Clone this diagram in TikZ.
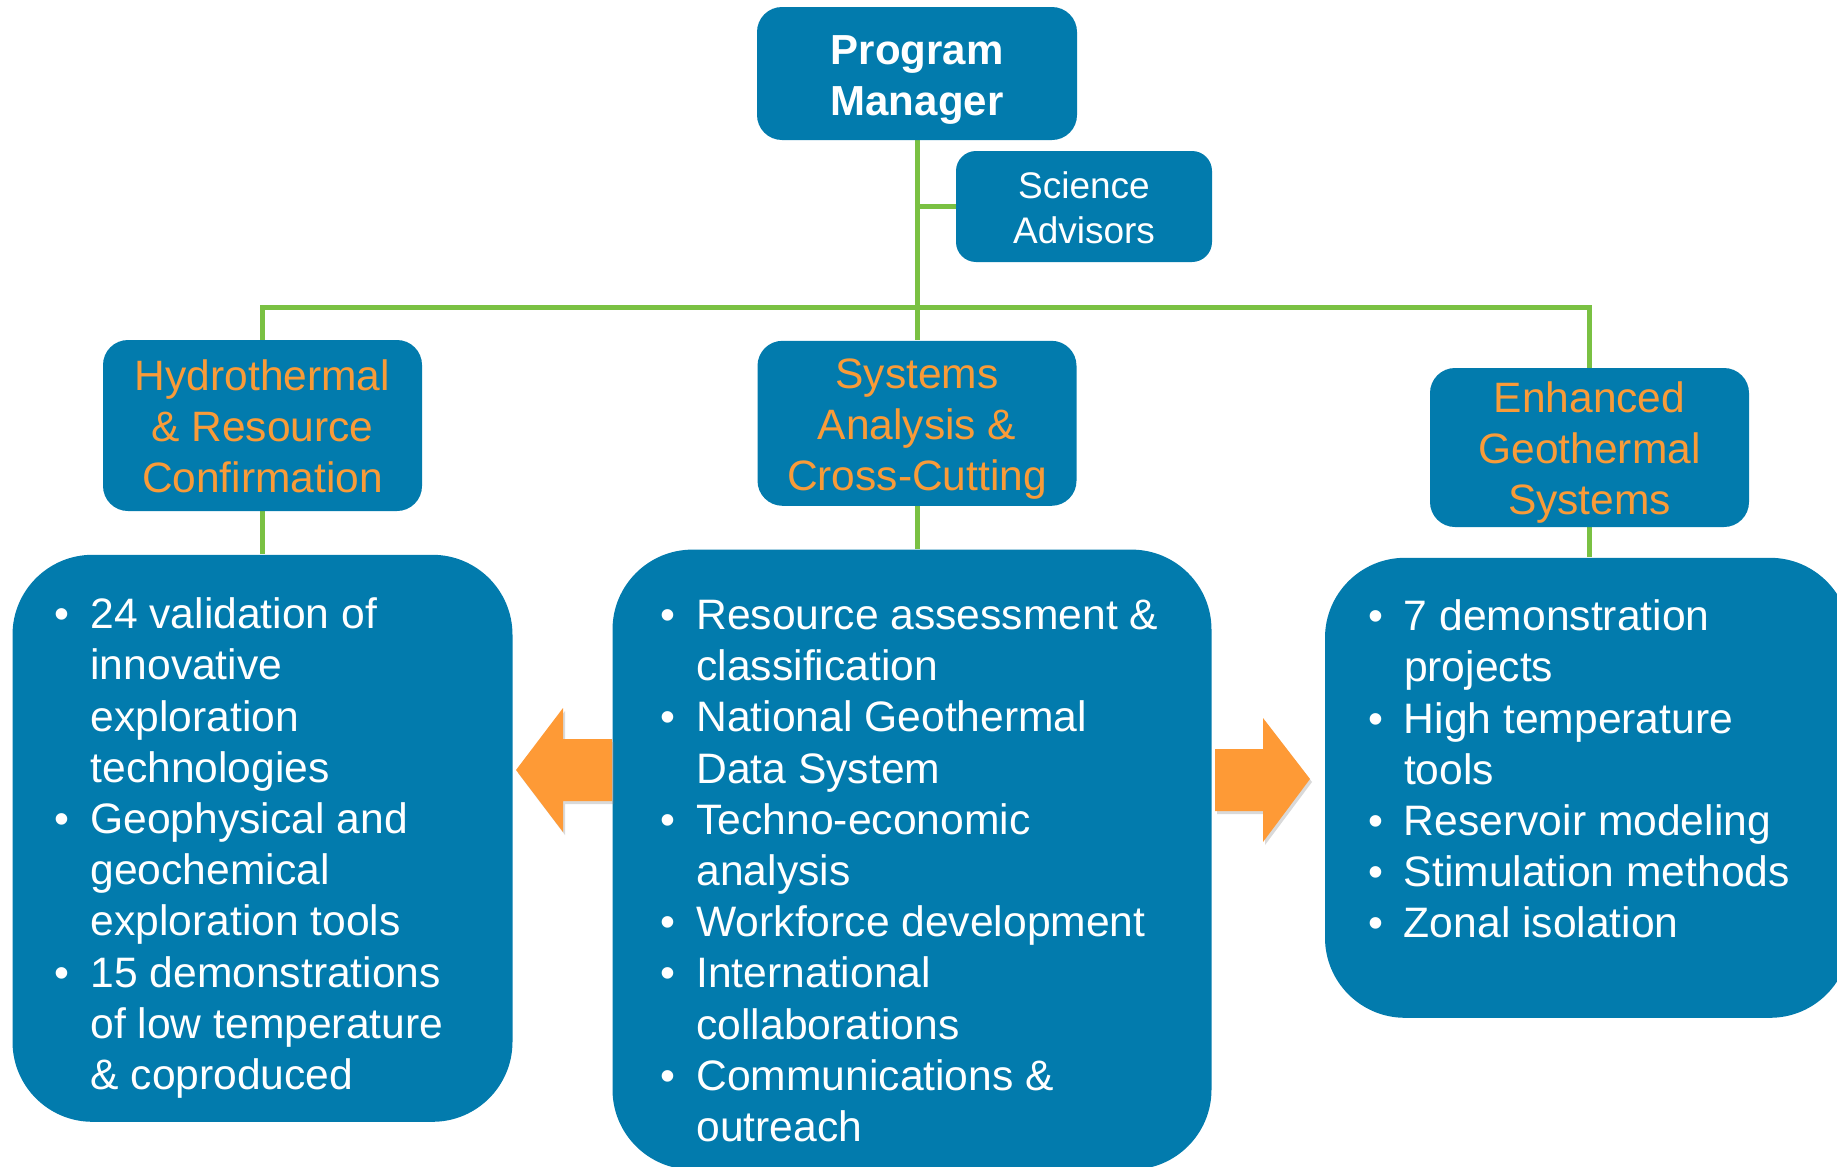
\documentclass[tikz,border=0pt]{standalone}
\usepackage{fontspec}
\setmainfont{Liberation Sans}
\usepackage{tikz}
\usetikzlibrary{positioning, calc, backgrounds, shadows}
\usepackage{xcolor}

\definecolor{doeblue}{HTML}{027BAD}
\definecolor{headorange}{HTML}{F99B38}
\definecolor{arroworange}{HTML}{FE9A36}
\definecolor{wiregreen}{HTML}{7AC143}

% first line height / last line depth of a box title
\newcommand{\up}[1]{\rule{0pt}{#1}}
\newcommand{\dn}{\rule[-5pt]{0pt}{5pt}}
% bullet line / continuation line
\newcommand{\bul}{\strut\makebox[18pt][l]{\textbullet}}
\newcommand{\cnt}{\strut\hspace*{18pt}}
% width, height, top skip, left skip, lines
\newcommand{\listtext}[5]{\parbox[c][#2][t]{#1}{\vspace*{#3}\raggedright\leftskip=#4\relax #5}}

\begin{document}
\begin{tikzpicture}[
        x=0.5pt, y=-0.5pt,
        pmbox/.style={fill=doeblue, rounded corners=12.5pt, inner sep=0pt, text=white, align=center, font=\fontsize{21pt}{25.5pt}\selectfont\bfseries},
        advbox/.style={fill=doeblue, rounded corners=10pt, inner sep=0pt, text=white, align=center, font=\fontsize{18.5pt}{22.5pt}\selectfont},
        headbox/.style={fill=doeblue, rounded corners=12.5pt, inner sep=0pt, text=headorange, align=center, font=\fontsize{21.25pt}{25.5pt}\selectfont, minimum width=159.5pt},
        listbox/.style={fill=doeblue, rounded corners=40pt, inner sep=0pt, text=white, font=\fontsize{21.3pt}{25.6pt}\selectfont},
        wire/.style={draw=wiregreen, line width=2.5pt},
        blockarrow/.style={fill=arroworange, drop shadow={shadow xshift=1pt, shadow yshift=-1.5pt, opacity=0.3, fill=black!50}}
    ]
        \useasboundingbox (0,0) rectangle (1837,1167);

        % Nodes
        \node (pm) [pmbox, minimum width=160pt, minimum height=66.5pt] at (917,73.5) {\up{21.6pt}Program\\Manager\dn};
        \node (sci) [advbox, minimum width=128pt, minimum height=55.5pt] at (1084,206.5) {\up{19.3pt}Science\\Advisors\dn};

        \node (sys) [headbox, minimum height=82.5pt, below=100pt of pm] {\up{20.8pt}Systems\\Analysis \&\\Cross-Cutting\dn};
        \node (hyd) [headbox, minimum height=85.5pt] at (262.5,425.5) {\up{20.8pt}Hydrothermal\\\& Resource\\Confirmation\dn};
        \node (egs) [headbox, minimum height=79.5pt] at (1589.5,447.5) {\up{20.8pt}Enhanced\\Geothermal\\Systems\dn};

        \node (hydlist) [listbox, below=21.5pt of hyd] {\listtext{250pt}{283.5pt}{19pt}{21pt}{%
            \bul 24 validation of\\ \cnt innovative\\ \cnt exploration\\ \cnt technologies\\
            \bul Geophysical and\\ \cnt geochemical\\ \cnt exploration tools\\
            \bul 15 demonstrations\\ \cnt of low temperature\\ \cnt \& coproduced}};
        \node (syslist) [listbox, below=21.5pt of sys, xshift=-2.5pt] {\listtext{299.5pt}{310pt}{22pt}{24pt}{%
            \bul Resource assessment \&\\ \cnt classification\\
            \bul National Geothermal\\ \cnt Data System\\
            \bul Techno-economic\\ \cnt analysis\\
            \bul Workforce development\\
            \bul International\\ \cnt collaborations\\
            \bul Communications \&\\ \cnt outreach}};
        \node (eglist) [listbox, below=15pt of egs, xshift=-1pt] {\listtext{262.5pt}{230pt}{18.5pt}{21.5pt}{%
            \bul 7 demonstration\\ \cnt projects\\
            \bul High temperature\\ \cnt tools\\
            \bul Reservoir modeling\\
            \bul Stimulation methods\\
            \bul Zonal isolation}};

        \coordinate (bus) at (917,307);

        % Wires
        \begin{scope}[on background layer]
            \draw[wire] (pm.south) -- (sys.north);
            \draw[wire] (sci.west) -- (sci.west -| pm.south);
            \draw[wire] (hyd.north) |- (bus) -| (egs.north);
            \draw[wire] (hyd.south) -- (hyd.south |- hydlist.north);
            \draw[wire] (sys.south) -- (sys.south |- syslist.north);
            \draw[wire] (egs.south) -- (egs.south |- eglist.north);
        \end{scope}

        % Block arrows
        \fill[blockarrow] (612,739) -- (563,739) -- (563,708) -- (516,770) -- (563,832) -- (563,801) -- (612,801) -- cycle;
        \fill[blockarrow] (1215,749) -- (1263,749) -- (1263,718) -- (1310,779) -- (1263,842) -- (1263,811) -- (1215,811) -- cycle;

    \end{tikzpicture}
\end{document}
